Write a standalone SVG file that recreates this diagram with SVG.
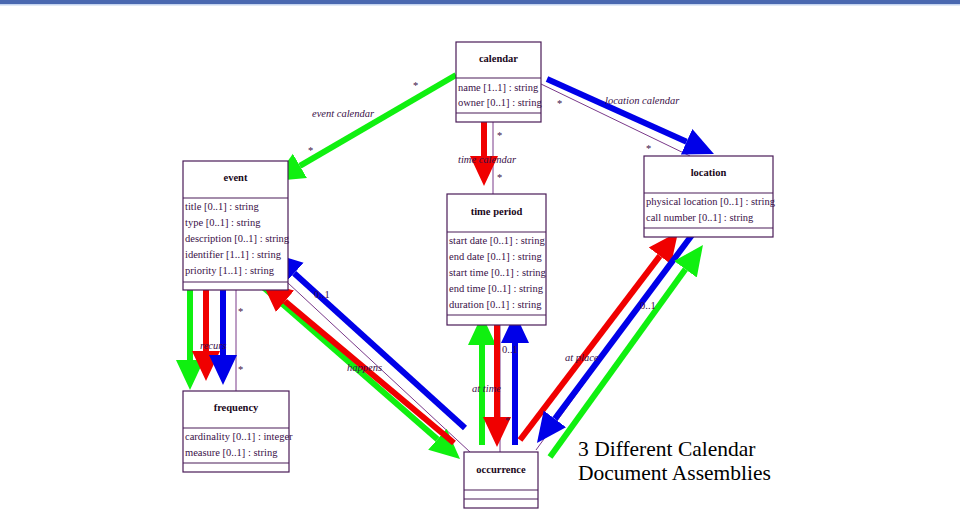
<svg xmlns="http://www.w3.org/2000/svg" width="960" height="517" viewBox="0 0 960 517">
<style>
.box{fill:#fff;stroke:#4a1c58;stroke-width:1.2}
.div{stroke:#4a1c58;stroke-width:1.2}
.title{font-family:"Liberation Serif",serif;font-weight:bold;font-size:10.5px;fill:#1a0820;text-anchor:middle}
.attr{font-family:"Liberation Serif",serif;font-size:10.5px;fill:#3a1048}
.lbl{font-family:"Liberation Serif",serif;font-style:italic;font-size:10.5px;fill:#3a1048}
.mul{font-family:"Liberation Serif",serif;font-size:10.5px;fill:#3a1048}
.thin{stroke:#7a3a8a;stroke-width:1;fill:none}
.g{stroke:#10f010;stroke-width:6;fill:none;marker-end:url(#hg)}
.r{stroke:#f00000;stroke-width:6;fill:none;marker-end:url(#hr)}
.b{stroke:#0000e8;stroke-width:6;fill:none;marker-end:url(#hb)}
.big{font-family:"Liberation Serif",serif;font-size:21.5px;fill:#000}
</style>
<defs>
<marker id="hg" markerUnits="userSpaceOnUse" markerWidth="32" markerHeight="30" refX="0" refY="15" orient="auto" viewBox="0 0 32 30"><path d="M0,1 L30,15 L0,29 z" fill="#10f010"/></marker>
<marker id="hr" markerUnits="userSpaceOnUse" markerWidth="32" markerHeight="30" refX="0" refY="15" orient="auto" viewBox="0 0 32 30"><path d="M0,1 L30,15 L0,29 z" fill="#f00000"/></marker>
<marker id="hb" markerUnits="userSpaceOnUse" markerWidth="32" markerHeight="30" refX="0" refY="15" orient="auto" viewBox="0 0 32 30"><path d="M0,1 L30,15 L0,29 z" fill="#0000e8"/></marker>
</defs>
<rect x="0" y="0" width="960" height="517" fill="#fff"/>
<rect x="0" y="0" width="960" height="4" fill="#4a68b0"/>
<rect x="0" y="4" width="960" height="1.5" fill="#c4d4f0"/>

<g id="connectors">
<line class="thin" x1="456" y1="77" x2="290" y2="172"/>
<line class="thin" x1="493" y1="122" x2="493" y2="194"/>
<line class="thin" x1="541" y1="84" x2="690" y2="156"/>
<line class="thin" x1="236" y1="290" x2="236" y2="391"/>
<line class="thin" x1="470" y1="452" x2="288" y2="283"/>
<line class="thin" x1="500" y1="325" x2="500" y2="452"/>
<line class="thin" x1="536" y1="450" x2="690" y2="237"/>

<line class="g" x1="456" y1="75" x2="299.9" y2="165.9"/>
<line class="r" x1="484" y1="113" x2="484" y2="156"/>
<line class="b" x1="547" y1="79" x2="686.6" y2="141.7"/>

<line class="g" x1="190" y1="290" x2="190" y2="360"/>
<line class="r" x1="206" y1="287" x2="206" y2="351"/>
<line class="b" x1="223" y1="285" x2="223" y2="355"/>

<line class="g" x1="263" y1="287" x2="437.4" y2="439.3"/>
<line class="r" x1="454" y1="443" x2="285" y2="301.3"/>
<line class="b" x1="465" y1="428" x2="294.2" y2="273.2"/>

<line class="g" x1="482" y1="445" x2="482" y2="345"/>
<line class="r" x1="497" y1="318" x2="497" y2="417"/>
<line class="b" x1="515" y1="445" x2="515" y2="343"/>

<line class="r" x1="520" y1="440" x2="659.9" y2="255.9"/>
<line class="b" x1="695" y1="231" x2="554.9" y2="418.9"/>
<line class="g" x1="550" y1="457" x2="685.4" y2="269.3"/>

<text class="lbl" x="312" y="117">event calendar</text>
<text class="mul" x="413" y="89">*</text>
<text class="mul" x="308" y="154">*</text>
<text class="lbl" x="458" y="163">time calendar</text>
<text class="mul" x="497" y="139">*</text>
<text class="mul" x="497" y="181">*</text>
<text class="lbl" x="605" y="104">location calendar</text>
<text class="mul" x="557" y="107">*</text>
<text class="mul" x="646" y="152">*</text>
<text class="lbl" x="200" y="349">recurs</text>
<text class="mul" x="238" y="315">*</text>
<text class="mul" x="238" y="373">*</text>
<text class="lbl" x="347" y="371">happens</text>
<text class="mul" x="314" y="298">0..1</text>
<text class="lbl" x="472" y="392">at time</text>
<text class="mul" x="502" y="353">0..1</text>
<text class="mul" x="505" y="424">*</text>
<text class="lbl" x="565" y="361">at place</text>
<text class="mul" x="640" y="309">0..1</text>
</g>

<g id="calendar">
<rect class="box" x="456" y="42" width="85" height="80"/>
<line class="div" x1="456" y1="78" x2="541" y2="78"/>
<line class="div" x1="456" y1="113" x2="541" y2="113"/>
<text class="title" x="498.5" y="62">calendar</text>
<text class="attr" x="458" y="91">name [1..1] : string</text>
<text class="attr" x="458" y="106">owner [0..1] : string</text>
</g>

<g id="event">
<rect class="box" x="183" y="161" width="105" height="129"/>
<line class="div" x1="183" y1="198" x2="288" y2="198"/>
<line class="div" x1="183" y1="282" x2="288" y2="282"/>
<text class="title" x="235.5" y="181">event</text>
<text class="attr" x="185" y="210">title [0..1] : string</text>
<text class="attr" x="185" y="226">type [0..1] : string</text>
<text class="attr" x="185" y="242">description [0..1] : string</text>
<text class="attr" x="185" y="258">identifier [1..1] : string</text>
<text class="attr" x="185" y="274">priority [1..1] : string</text>
</g>

<g id="time-period">
<rect class="box" x="447" y="194" width="99" height="131"/>
<line class="div" x1="447" y1="232" x2="546" y2="232"/>
<line class="div" x1="447" y1="315" x2="546" y2="315"/>
<text class="title" x="496.5" y="215">time period</text>
<text class="attr" x="449" y="244">start date [0..1] : string</text>
<text class="attr" x="449" y="260">end date [0..1] : string</text>
<text class="attr" x="449" y="276">start time [0..1] : string</text>
<text class="attr" x="449" y="292">end time [0..1] : string</text>
<text class="attr" x="449" y="308">duration [0..1] : string</text>
</g>

<g id="location">
<rect class="box" x="644" y="156" width="129" height="81"/>
<line class="div" x1="644" y1="193" x2="773" y2="193"/>
<line class="div" x1="644" y1="228" x2="773" y2="228"/>
<text class="title" x="708.5" y="176">location</text>
<text class="attr" x="646" y="205">physical location [0..1] : string</text>
<text class="attr" x="646" y="221">call number [0..1] : string</text>
</g>

<g id="frequency">
<rect class="box" x="183" y="391" width="106" height="81"/>
<line class="div" x1="183" y1="428" x2="289" y2="428"/>
<line class="div" x1="183" y1="463" x2="289" y2="463"/>
<text class="title" x="236" y="411">frequency</text>
<text class="attr" x="185" y="440">cardinality [0..1] : integer</text>
<text class="attr" x="185" y="456">measure [0..1] : string</text>
</g>

<g id="occurrence">
<rect class="box" x="464" y="452" width="74" height="56"/>
<line class="div" x1="464" y1="490" x2="538" y2="490"/>
<line class="div" x1="464" y1="499" x2="538" y2="499"/>
<text class="title" x="501" y="473">occurrence</text>
</g>

<g id="caption">
<text class="big" x="578" y="456">3 Different Calendar</text>
<text class="big" x="578" y="480">Document Assemblies</text>
</g>
</svg>
